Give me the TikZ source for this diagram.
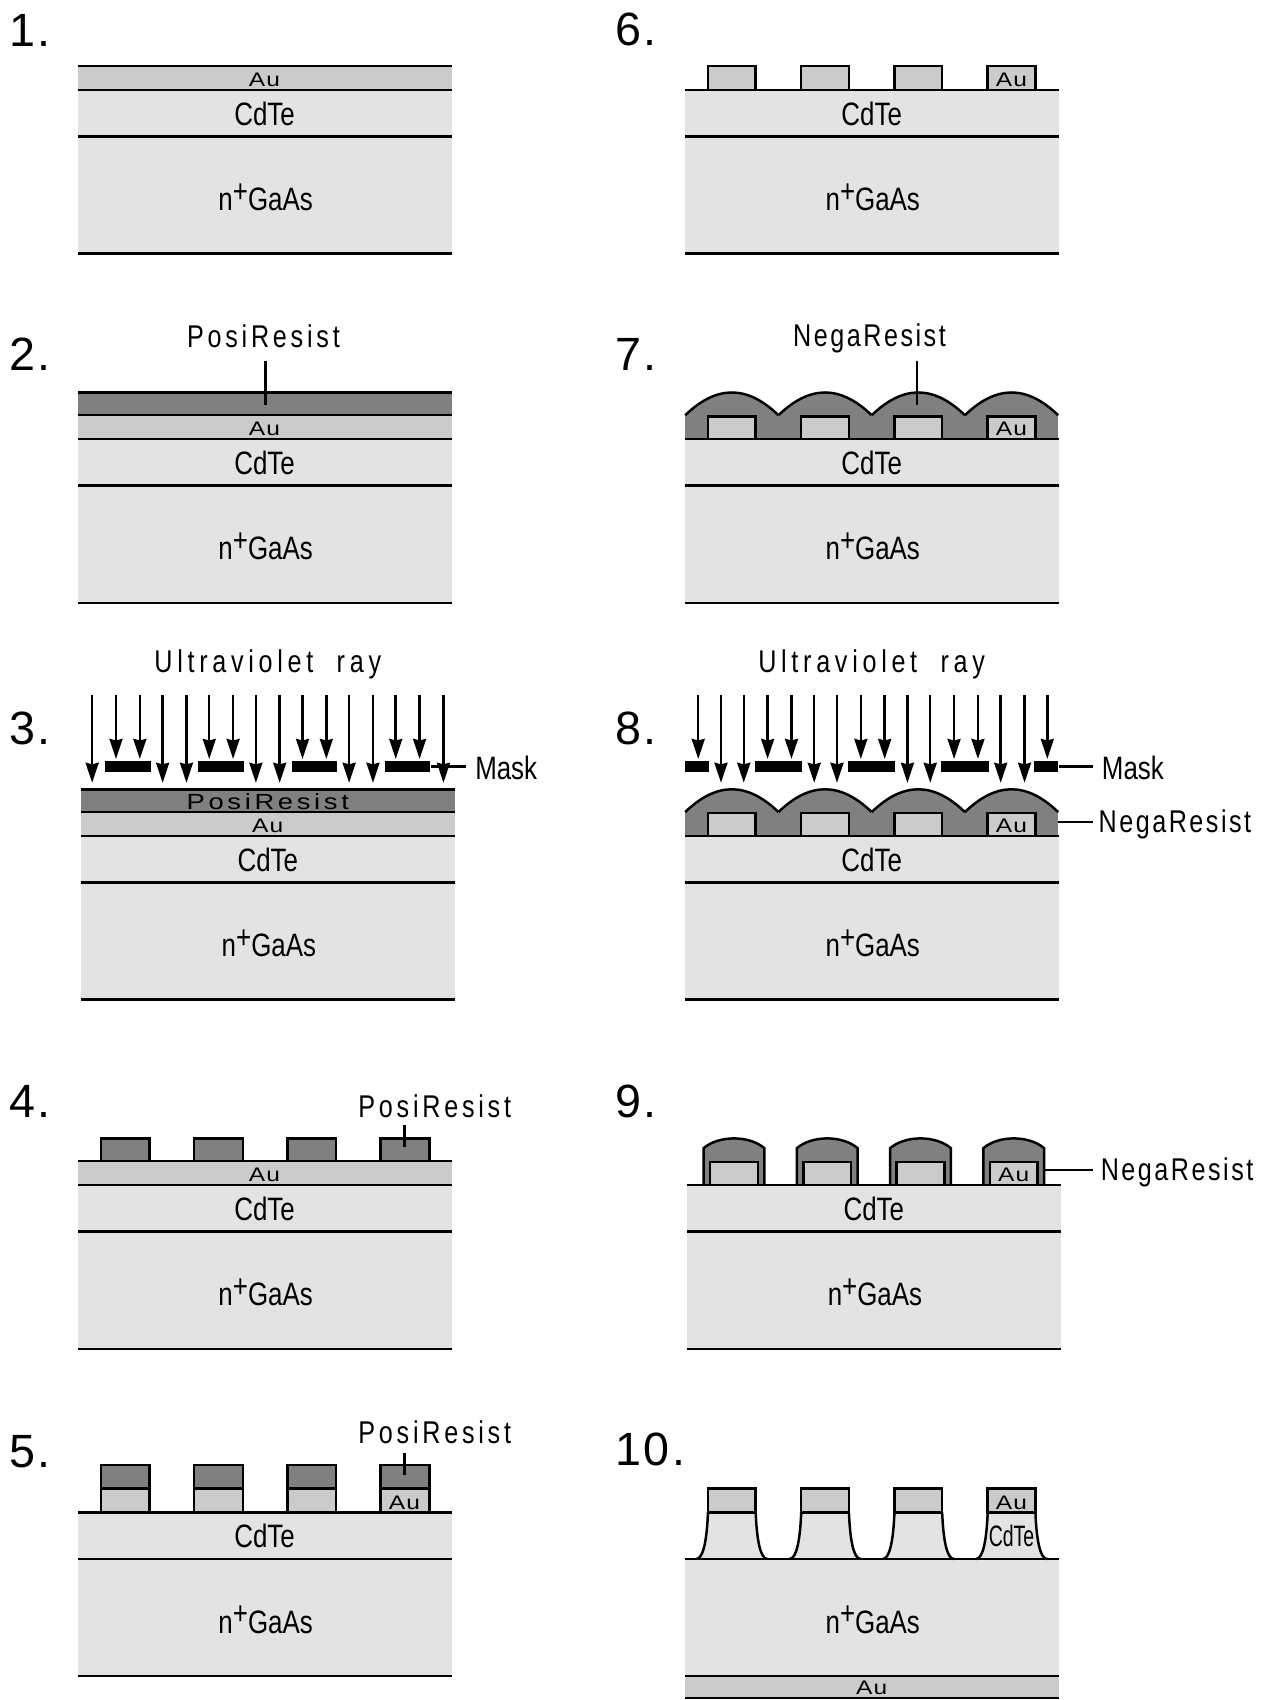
\documentclass[tikz,border=0pt]{standalone}
\usepackage{fontspec}
\setmainfont[FakeStretch=0.8]{Liberation Sans}
\newfontfamily\stepfont[LetterSpace=6]{Liberation Sans}
\newfontfamily\trackfont[FakeStretch=0.8,LetterSpace=12]{Liberation Sans}
\newfontfamily\negafont[FakeStretch=0.8,LetterSpace=8]{Liberation Sans}
\newfontfamily\uvfont[FakeStretch=0.8,LetterSpace=15]{Liberation Sans}
\newfontfamily\widefont[FakeStretch=1.25,LetterSpace=6]{Liberation Sans}
\newfontfamily\tightfont[FakeStretch=0.66]{Liberation Sans}
\usetikzlibrary{arrows.meta}
\definecolor{baselayer}{RGB}{227,227,227}
\definecolor{goldlayer}{RGB}{203,203,203}
\definecolor{resistlayer}{RGB}{128,128,128}
\tikzset{x=.02cm,y=-.02cm,every node/.style={inner sep=0pt},
 edge/.style={line width=1.3pt},
 ray/.style={-{Stealth[length=.37cm,width=.24cm,inset=.03cm]},line width=1.3pt},
 leader/.style={line width=1.3pt},
 maskbar/.style={fill=black,minimum height=.2cm},
 goldblock/.style={edge,fill=goldlayer},
 resistblock/.style={edge,fill=resistlayer},
 steplabel/.style={anchor=west,font=\fontsize{24.5}{28}\stepfont},
 layerlabel/.style={font=\fontsize{17}{20}\selectfont},
 calllabel/.style={font=\fontsize{16.5}{20}\trackfont},
 negalabel/.style={font=\fontsize{16.5}{20}\negafont},
 uvlabel/.style={font=\fontsize{16.5}{20}\uvfont},
 masklabel/.style={anchor=west,font=\fontsize{17}{20}\selectfont},
 smalllabel/.style={font=\fontsize{10.3}{12}\widefont}}
\newcommand{\substrate}[1]{
\fill[baselayer] (0,0) rectangle (345,151);
\draw[edge] (0,43)--(345,43);
\draw[edge] (0,151)--(345,151);
\node[layerlabel] (cdte#1) at (172,22) {CdTe};
\node[layerlabel] (gaas#1) at (173,99) {n\raisebox{.25em}{+}GaAs};}
\newcommand{\goldfilm}[1]{
\fill[goldlayer] (0,-22) rectangle (345,0);
\draw[edge] (0,-22)--(345,-22);
\node[smalllabel] (au#1) at (172,-9) {Au};}
\newcommand{\topline}{\draw[edge] (0,0)--(345,0);}
\newcommand{\humps}{
\fill[resistlayer] (0,-21) rectangle (344,0);
\foreach \b in {0,86,172,258} {
\fill[resistlayer] (\b,-21)--(\b,-22) .. controls (\b+29,-50) and (\b+57,-50) .. (\b+86,-22)--(\b+86,-21)--cycle;
\draw[edge] (\b,-22) .. controls (\b+29,-50) and (\b+57,-50) .. (\b+86,-22);}}
\begin{document}
\begin{tikzpicture}
\useasboundingbox (0,0) rectangle (1175,1568);
\node[steplabel] (num1) at (8,28) {1.};
\node[steplabel] (num2) at (8,327) {2.};
\node[steplabel] (num3) at (8,672) {3.};
\node[steplabel] (num4) at (8,1016) {4.};
\node[steplabel] (num5) at (8,1339) {5.};
\node[steplabel] (num6) at (567,27) {6.};
\node[steplabel] (num7) at (567,327) {7.};
\node[steplabel] (num8) at (567,672) {8.};
\node[steplabel] (num9) at (567,1016) {9.};
\node[steplabel] (num10) at (567,1337) {10.};

\begin{scope}[shift={(72,83)}]
\substrate{1}
\goldfilm{1}
\topline
\end{scope}

\begin{scope}[shift={(72,405)}]
\substrate{2}
\goldfilm{2}
\fill[resistlayer] (0,-43) rectangle (345,-22);
\draw[edge] (0,-43)--(345,-43) (0,-22)--(345,-22);
\topline
\end{scope}
\node[calllabel] (posi2) at (243,310) {PosiResist};
\coordinate (posi2top) at (245,333);
\coordinate (posi2end) at (245,374);
\draw[leader] (posi2top)--(posi2end);

\begin{scope}[shift={(75,771)}]
\substrate{3}
\goldfilm{3}
\fill[resistlayer] (0,-43) rectangle (345,-22);
\draw[edge] (0,-43)--(345,-43) (0,-22)--(345,-22);
\topline
\node[smalllabel,font=\fontsize{11.5}{12}\widefont] (posi3) at (172,-32) {P\,o\,s\,i\,R\,e\,s\,i\,s\,t};
\end{scope}
\node[uvlabel] (uv3) at (247,613) {Ultraviolet\ \ ray};
\foreach \x in {85,150,172,236,258,322,344,409} \draw[ray] (\x,641)--(\x,722);
\foreach \x in {107,129,193,215,279,301,365,387} \draw[ray] (\x,641)--(\x,700);
\foreach \x/\n in {118/1,204/2,290/3,376/4} \node[maskbar,minimum width=.84cm] (bar3\n) at (\x,707) {};
\node[masklabel] (mask3) at (438,708) {Mask};
\coordinate (mask3end) at (430,707);
\draw[leader] (bar34.east)--(mask3end);

\begin{scope}[shift={(72,1093)}]
\substrate{4}
\goldfilm{4}
\foreach \b in {21,107,193,279} \draw[resistblock] (\b,-43) rectangle (\b+45,-22);
\topline
\end{scope}
\node[calllabel] (posi4) at (401,1020) {PosiResist};
\coordinate (posi4top) at (373,1038);
\coordinate (posi4end) at (373,1058);
\draw[leader] (posi4top)--(posi4end);

\begin{scope}[shift={(72,1395)}]
\substrate{5}
\foreach \b in {21,107,193,279} {
\draw[resistblock] (\b,-44) rectangle (\b+45,-22);
\draw[goldblock] (\b,-22) rectangle (\b+45,0);}
\topline
\node[smalllabel] (au5) at (301,-9) {Au};
\end{scope}
\node[calllabel] (posi5) at (401,1321) {PosiResist};
\coordinate (posi5top) at (373,1340);
\coordinate (posi5end) at (373,1360);
\draw[leader] (posi5top)--(posi5end);

\begin{scope}[shift={(632,83)}]
\substrate{6}
\foreach \b in {21,107,193,279} \draw[goldblock] (\b,-22) rectangle (\b+44,0);
\topline
\node[smalllabel] (au6) at (301,-9) {Au};
\end{scope}

\begin{scope}[shift={(632,405)}]
\substrate{7}
\humps
\foreach \b in {21,107,193,279} \draw[goldblock] (\b,-21) rectangle (\b+44,0);
\topline
\node[smalllabel] (au7) at (301,-9) {Au};
\end{scope}
\node[negalabel] (nega7) at (802,312) {NegaResist};
\coordinate (nega7top) at (846,333);
\coordinate (nega7end) at (846,374);
\draw[leader] (nega7top)--(nega7end);

\begin{scope}[shift={(632,771)}]
\substrate{8}
\humps
\foreach \b in {21,107,193,279} \draw[goldblock] (\b,-21) rectangle (\b+44,0);
\topline
\node[smalllabel] (au8) at (301,-9) {Au};
\coordinate (resist8) at (344,-13);
\end{scope}
\node[uvlabel] (uv8) at (804,613) {Ultraviolet\ \ ray};
\foreach \x in {665,686,751,772,837,858,923,945} \draw[ray] (\x,641)--(\x,722);
\foreach \x in {644,708,730,794,816,880,902,966} \draw[ray] (\x,641)--(\x,700);
\node[maskbar,minimum width=.44cm] (bar81) at (643,707) {};
\foreach \x/\n in {718/2,804/3,890/4} \node[maskbar,minimum width=.87cm] (bar8\n) at (\x,707) {};
\node[maskbar,minimum width=.44cm] (bar85) at (965,707) {};
\node[masklabel] (mask8) at (1016,708) {Mask};
\node[negalabel,anchor=west] (nega8) at (1013,760) {NegaResist};
\coordinate (mask8end) at (1008,707);
\coordinate (nega8end) at (1008,758);
\draw[leader] (bar85.east)--(mask8end);
\draw[leader] (resist8 |- nega8end)--(nega8end);

\begin{scope}[shift={(634,1093)}]
\substrate{9}
\foreach \b in {21,107,193,279} {
\draw[resistblock] (\b-6,0)--(\b-6,-34) .. controls (\b+8,-46) and (\b+36,-46) .. (\b+50,-34)--(\b+50,0);
\draw[goldblock] (\b,-21) rectangle (\b+44,0);}
\topline
\node[smalllabel] (au9) at (301,-9) {Au};
\coordinate (resist9) at (329,-14);
\end{scope}
\node[negalabel,anchor=west] (nega9) at (1015,1081) {NegaResist};
\coordinate (nega9end) at (1008,1079);
\draw[leader] (resist9)--(nega9end);

\begin{scope}[shift={(632,1395)}]
\fill[baselayer] (0,43) rectangle (345,151);
\fill[goldlayer] (0,151) rectangle (345,172);
\foreach \b in {21,107,193,279} {
\fill[baselayer] (\b,0) .. controls (\b-1,24) and (\b-4,43) .. (\b-11,43)--(\b+55,43) .. controls (\b+48,43) and (\b+45,24) .. (\b+44,0)--cycle;
\draw[edge] (\b,0) .. controls (\b-1,24) and (\b-4,43) .. (\b-11,43);
\draw[edge] (\b+44,0) .. controls (\b+45,24) and (\b+48,43) .. (\b+55,43);
\draw[goldblock] (\b,-22) rectangle (\b+44,0);}
\draw[edge] (0,43)--(345,43) (0,151)--(345,151) (0,171)--(345,171);
\node[smalllabel] (au10a) at (301,-9) {Au};
\node[font=\fontsize{15.5}{18}\tightfont] (cdte10) at (301,22) {CdTe};
\node[layerlabel] (gaas10) at (173,99) {n\raisebox{.25em}{+}GaAs};
\node[smalllabel] (au10b) at (172,162) {Au};
\end{scope}
\end{tikzpicture}
\end{document}
